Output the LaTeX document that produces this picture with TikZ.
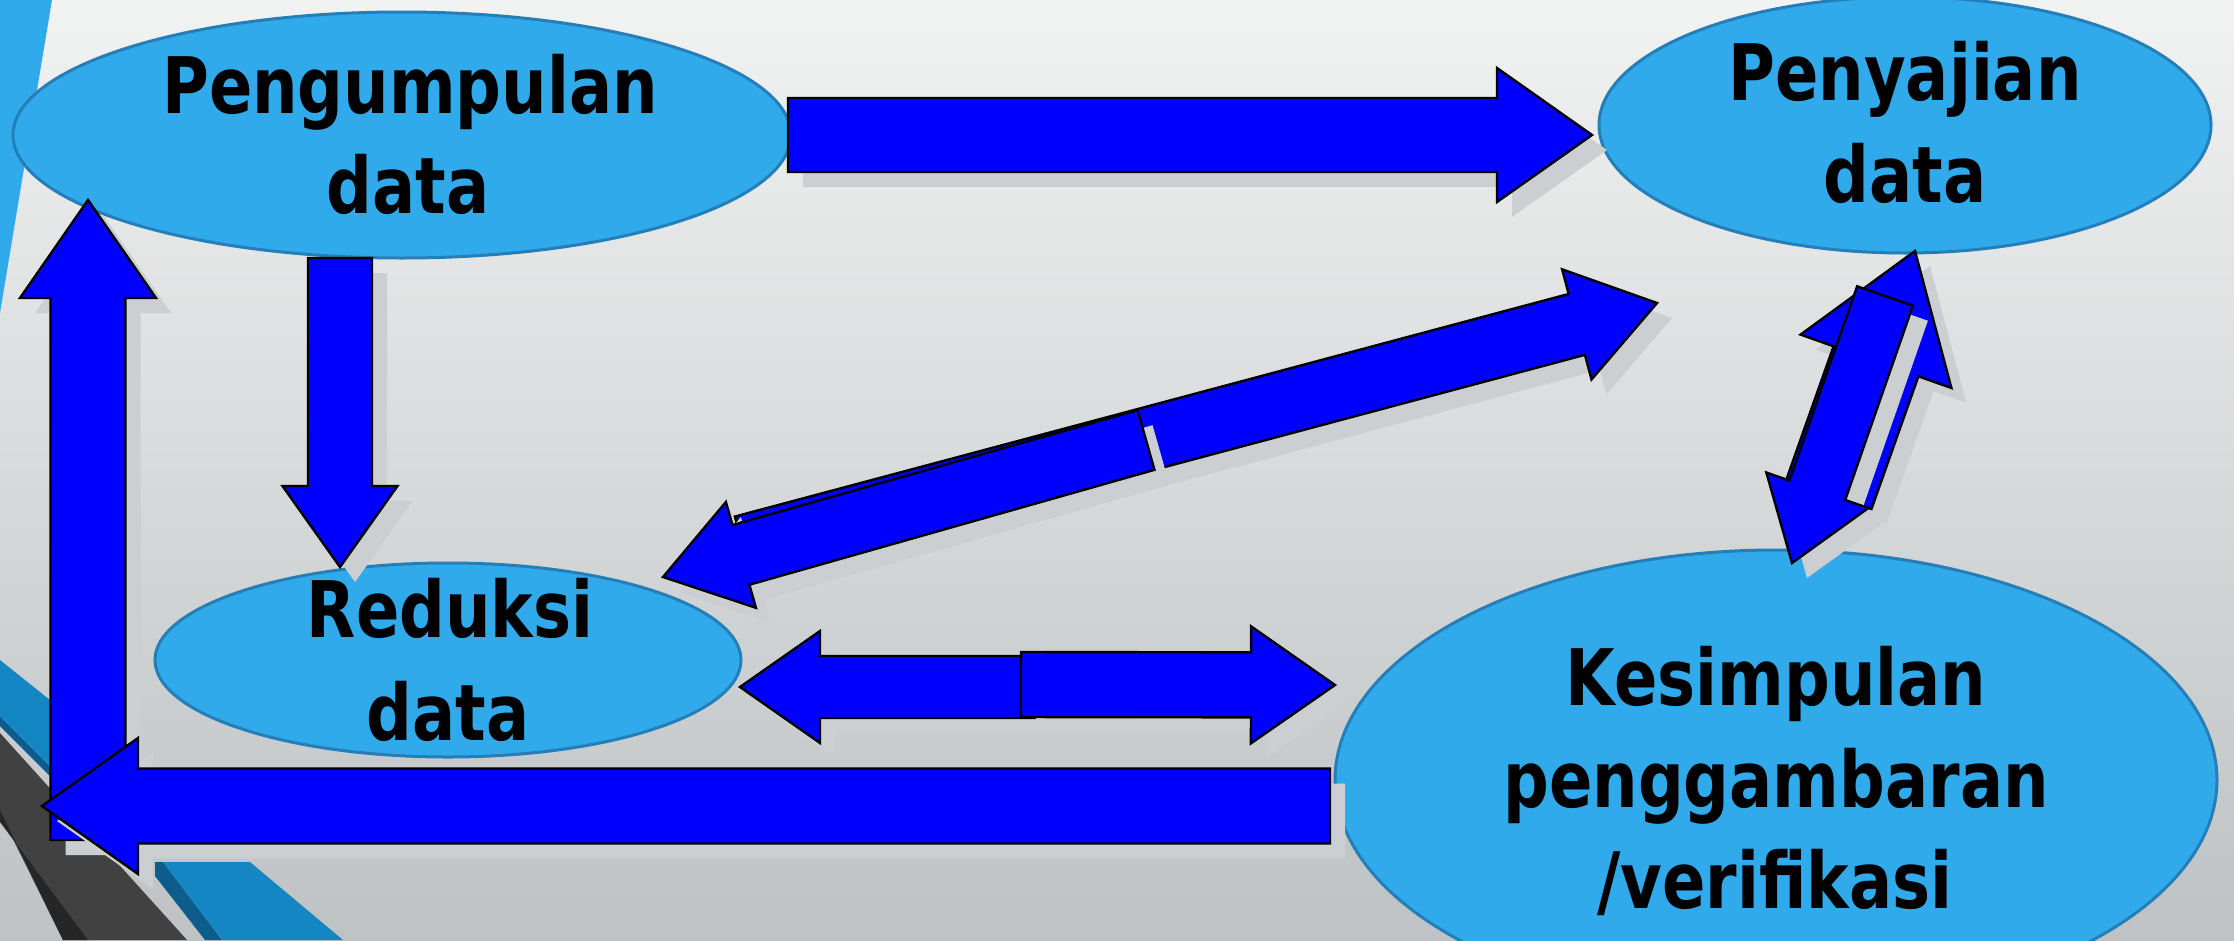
\documentclass[tikz,border=0pt]{standalone}
\usepackage{fontspec}
\newfontfamily\labfont[FakeStretch=0.82]{DejaVu Sans Bold}
\usetikzlibrary{calc,shapes.geometric}
\definecolor{bgtop}{RGB}{241,242,242}
\definecolor{bgmid}{RGB}{220,223,224}
\definecolor{bgbot}{RGB}{190,194,196}
\definecolor{ellfill}{RGB}{48,170,234}
\definecolor{elldraw}{RGB}{36,126,184}
\definecolor{arrblue}{RGB}{0,0,255}
\definecolor{shadowgray}{RGB}{204,207,209}
\definecolor{stripeblue}{RGB}{20,134,196}
\definecolor{stripedark}{RGB}{12,92,140}
\definecolor{banddark}{RGB}{65,65,65}
\definecolor{bandedge}{RGB}{38,38,38}
\tikzset{
  ell/.style={ellipse, fill=ellfill, draw=elldraw, line width=3pt, inner sep=0pt},
  lab/.style={font=\labfont\fontsize{78pt}{101pt}\selectfont, inner sep=0pt, text=black, anchor=base},
  arrowbox/.style={fill=arrblue, draw=black, line width=2.4pt, line join=miter},
  arrowshadow/.style={fill=shadowgray},
}
% #1 tail, #2 tip, #3 half shaft, #4 half head, #5 head length
\newcommand\blockarrow[5]{%
  \coordinate (hb) at ($(#2)!#5pt!(#1)$);
  \coordinate (q1) at ($(#1)!#3pt!90:(#2)$);
  \coordinate (q2) at ($(hb)!#3pt!-90:(#1)$);
  \coordinate (q3) at ($(hb)!#4pt!-90:(#1)$);
  \coordinate (q4) at (#2);
  \coordinate (q5) at ($(hb)!#4pt!90:(#1)$);
  \coordinate (q6) at ($(hb)!#3pt!90:(#1)$);
  \coordinate (q7) at ($(#1)!#3pt!-90:(#2)$);
  \fill[arrowshadow] ([shift={(15,15)}]q1) -- ([shift={(15,15)}]q2) -- ([shift={(15,15)}]q3) -- ([shift={(15,15)}]q4) -- ([shift={(15,15)}]q5) -- ([shift={(15,15)}]q6) -- ([shift={(15,15)}]q7) -- cycle;
  \draw[arrowbox] (q1) -- (q2) -- (q3) -- (q4) -- (q5) -- (q6) -- (q7) -- cycle;
}
\begin{document}
\begin{tikzpicture}[x=1pt,y=-1pt]
\useasboundingbox (0,0) rectangle (2234,940);
\clip (0,0) rectangle (2234,940);
\shade[top color=bgtop, middle color=bgmid, bottom color=bgbot] (0,0) rectangle (2234,940);
% left decorations
\fill[ellfill] (0,0) -- (52,0) -- (0,313) -- cycle;
\fill[stripedark] (0,716) -- (60,776) -- (60,786) -- (0,726) -- cycle;
\fill[stripeblue] (0,660) -- (60,708) -- (60,776) -- (0,716) -- cycle;
\fill[banddark] (0,733) -- (187,940) -- (63,940) -- (0,813) -- cycle;
\fill[bandedge] (0,810) -- (63,940) -- (88,940) -- (0,822) -- cycle;
\fill[stripedark] (155,862) -- (163,862) -- (222,940) -- (205,940) -- (155,876) -- cycle;
\fill[stripeblue] (163,862) -- (250,862) -- (343,940) -- (222,940) -- cycle;
% ellipses
\node[ell, minimum width=778pt, minimum height=246pt] (peng) at (402,135) {};
\node[ell, minimum width=612pt, minimum height=256pt] (peny) at (1905,125) {};
\node[ell, minimum width=586pt, minimum height=194pt] (redu) at (448,660) {};
\node[ell, minimum width=882pt, minimum height=460pt] (kesi) at (1776,780) {};
% texts
\node[lab] (pengA) at (410,113) {Pengumpulan};
\node[lab] (pengB) at (408,213) {data};
\node[lab] (penyA) at (1905,100) {Penyajian};
\node[lab] (penyB) at (1905,202) {data};
\node[lab] (reduA) at (450,637) {Reduksi};
\node[lab] (reduB) at (448,740) {data};
\node[lab] (kesiA) at (1776,705) {Kesimpulan};
\node[lab] (kesiB) at (1776,807) {penggambaran};
\node[lab] (kesiC) at (1775,908) {/verifikasi};
% arrow end points
\coordinate (upT) at (88,840);   \coordinate (upH) at (88,200);
\coordinate (lowT) at (1330,806); \coordinate (lowH) at (42,806);
\coordinate (topT) at (788,135); \coordinate (topH) at (1592,135);
\coordinate (dnT) at (340,258);  \coordinate (dnH) at (340,567);
\coordinate (mlT) at (1035,687); \coordinate (mlH) at (740,687);
\coordinate (mrT) at (1021,684.5); \coordinate (mrH) at (1335,685);
\coordinate (drT) at (743,547);  \coordinate (drH) at (1657,303);
\coordinate (dlT) at (1146,440); \coordinate (dlH) at (663,577);
\coordinate (vuT) at (1829,494); \coordinate (vuH) at (1915,251);
\coordinate (vdT) at (1885,296); \coordinate (vdH) at (1792,563);
% arrows
\blockarrow{upT}{upH}{37.5}{68}{98}
\blockarrow{lowT}{lowH}{37.5}{68}{96}
\blockarrow{topT}{topH}{37}{67}{95}
\blockarrow{dnT}{dnH}{32}{57.5}{81}
\blockarrow{mlT}{mlH}{31}{56}{80}
\blockarrow{mrT}{mrH}{32.5}{58.5}{84}
\blockarrow{drT}{drH}{31.5}{57}{83}
\blockarrow{dlT}{dlH}{31}{55}{81}
\blockarrow{vuT}{vuH}{45}{80}{117}
\blockarrow{vdT}{vdH}{29.5}{54}{77}
\end{tikzpicture}
\end{document}
